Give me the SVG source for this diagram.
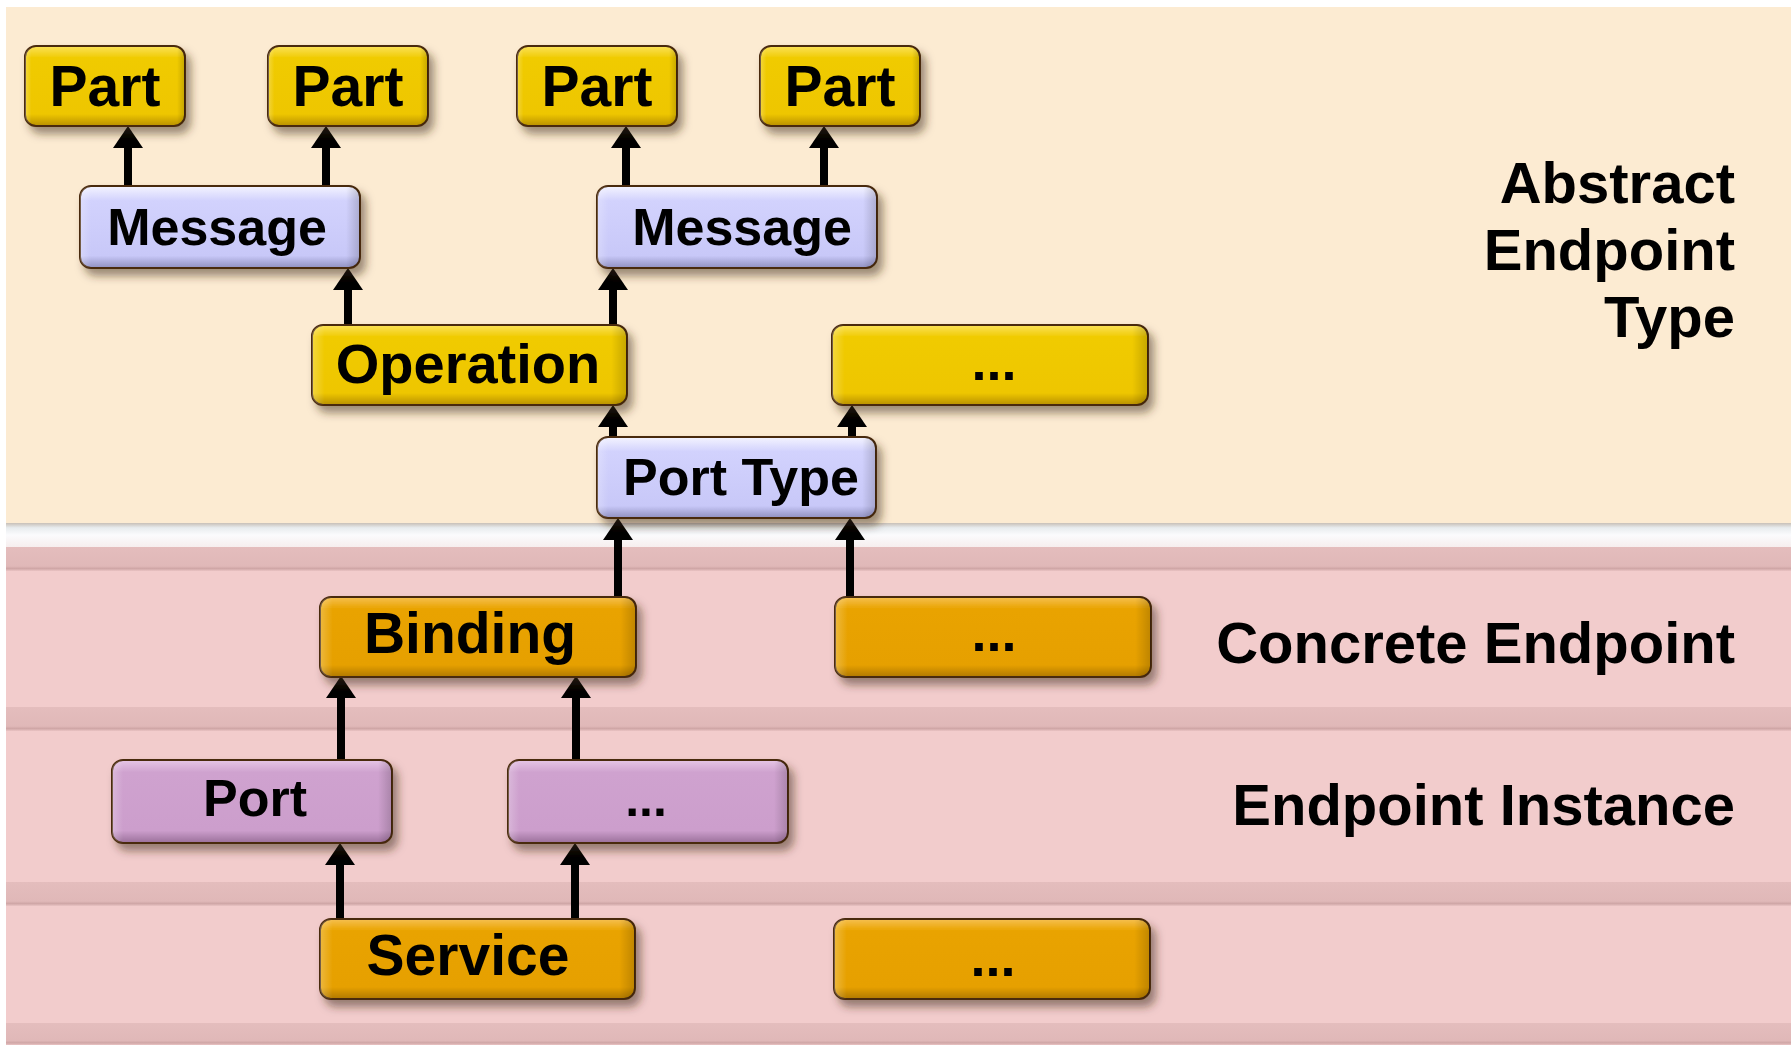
<svg xmlns="http://www.w3.org/2000/svg" width="1791" height="1045" viewBox="0 0 1791 1045">
  <defs>
    <style>
      .lbl { font-family: "Liberation Sans", Arial, sans-serif; font-weight: bold; fill: #000; text-anchor: middle; }
      .side { font-family: "Liberation Sans", Arial, sans-serif; font-weight: bold; fill: #000; font-size: 58px; text-anchor: end; }
      .box { stroke: #4a2a10; stroke-width: 2; filter: url(#shadow); }
      .gloss { fill: url(#edgeShade); pointer-events: none; }
      .conn { stroke: #000; stroke-width: 8; fill: none; marker-end: url(#head); }
    </style>
    <filter id="shadow" x="-10%" y="-20%" width="125%" height="150%">
      <feDropShadow dx="5" dy="7" stdDeviation="4.5" flood-color="#3a2a10" flood-opacity="0.5"/>
    </filter>
    <linearGradient id="gYellow" x1="0" y1="0" x2="0" y2="1">
      <stop offset="0" stop-color="#fbe25a"/>
      <stop offset="0.15" stop-color="#f0cb00"/>
      <stop offset="0.85" stop-color="#eec600"/>
      <stop offset="1" stop-color="#b89000"/>
    </linearGradient>
    <linearGradient id="gLavender" x1="0" y1="0" x2="0" y2="1">
      <stop offset="0" stop-color="#f4f4ff"/>
      <stop offset="0.18" stop-color="#d2d2fd"/>
      <stop offset="0.85" stop-color="#c8c8f8"/>
      <stop offset="1" stop-color="#9090c0"/>
    </linearGradient>
    <linearGradient id="gOrange" x1="0" y1="0" x2="0" y2="1">
      <stop offset="0" stop-color="#f6c050"/>
      <stop offset="0.15" stop-color="#e9a300"/>
      <stop offset="0.85" stop-color="#e6a000"/>
      <stop offset="1" stop-color="#b07800"/>
    </linearGradient>
    <linearGradient id="gPurple" x1="0" y1="0" x2="0" y2="1">
      <stop offset="0" stop-color="#e6c6e6"/>
      <stop offset="0.15" stop-color="#cfa2cf"/>
      <stop offset="0.85" stop-color="#cc9ecc"/>
      <stop offset="1" stop-color="#9a709a"/>
    </linearGradient>
    <linearGradient id="edgeShade" x1="0" y1="0" x2="1" y2="0">
      <stop offset="0" stop-color="#fff" stop-opacity="0.25"/>
      <stop offset="0.04" stop-color="#fff" stop-opacity="0"/>
      <stop offset="0.95" stop-color="#000" stop-opacity="0"/>
      <stop offset="1" stop-color="#000" stop-opacity="0.18"/>
    </linearGradient>
    <linearGradient id="stripe" x1="0" y1="0" x2="0" y2="1">
      <stop offset="0" stop-color="#e4bdbd"/>
      <stop offset="0.8" stop-color="#e0b8b8"/>
      <stop offset="0.9" stop-color="#cfa6a6"/>
      <stop offset="1" stop-color="#eac4c4"/>
    </linearGradient>
    <linearGradient id="gap" x1="0" y1="0" x2="0" y2="1">
      <stop offset="0" stop-color="#c8c0b8"/>
      <stop offset="0.2" stop-color="#e8ecee"/>
      <stop offset="0.5" stop-color="#fbfbfd"/>
      <stop offset="1" stop-color="#f6eeee"/>
    </linearGradient>
    <marker id="head" viewBox="0 0 22 30" markerUnits="userSpaceOnUse" markerWidth="22" markerHeight="30" refX="0" refY="15" orient="auto">
      <path d="M0,0 L22,15 L0,30 z" fill="#000"/>
    </marker>
  </defs>

  <!-- layer backgrounds -->
  <g id="layers">
    <rect x="0" y="0" width="1791" height="1045" fill="#ffffff"/>
    <rect x="6" y="7" width="1785" height="516" fill="#fcebd2"/>
    <rect x="6" y="523" width="1785" height="24" fill="url(#gap)"/>
    <rect x="6" y="547" width="1785" height="498" fill="#f2cccc"/>
    <rect x="6" y="547" width="1785" height="24" fill="url(#stripe)"/>
    <rect x="6" y="707" width="1785" height="24" fill="url(#stripe)"/>
    <rect x="6" y="882" width="1785" height="24" fill="url(#stripe)"/>
    <rect x="6" y="1023" width="1785" height="22" fill="url(#stripe)"/>
  </g>

  <!-- layer captions -->
  <g id="captions">
    <text class="side" x="1735" y="203">Abstract</text>
    <text class="side" x="1735" y="270">Endpoint</text>
    <text class="side" x="1735" y="337">Type</text>
    <text class="side" x="1735" y="663">Concrete Endpoint</text>
    <text class="side" x="1735" y="825">Endpoint Instance</text>
  </g>

  <!-- connectors (drawn from source up to target) -->
  <g id="connectors">
    <line class="conn" x1="128" y1="186" x2="128" y2="148"/>
    <line class="conn" x1="326" y1="186" x2="326" y2="148"/>
    <line class="conn" x1="626" y1="186" x2="626" y2="148"/>
    <line class="conn" x1="824" y1="186" x2="824" y2="148"/>
    <line class="conn" x1="348" y1="325" x2="348" y2="290"/>
    <line class="conn" x1="613" y1="325" x2="613" y2="290"/>
    <line class="conn" x1="613" y1="437" x2="613" y2="427"/>
    <line class="conn" x1="852" y1="437" x2="852" y2="427"/>
    <line class="conn" x1="618" y1="597" x2="618" y2="540"/>
    <line class="conn" x1="850" y1="597" x2="850" y2="540"/>
    <line class="conn" x1="341" y1="760" x2="341" y2="698"/>
    <line class="conn" x1="576" y1="760" x2="576" y2="698"/>
    <line class="conn" x1="340" y1="919" x2="340" y2="865"/>
    <line class="conn" x1="575" y1="919" x2="575" y2="865"/>
  </g>

  <!-- abstract endpoint type -->
  <g id="part1">
    <rect class="box" x="25" y="46" width="160" height="80" rx="11" fill="url(#gYellow)"/>
    <rect class="gloss" x="25" y="46" width="160" height="80" rx="11"/>
    <text class="lbl" x="105" y="106" font-size="57">Part</text>
  </g>
  <g id="part2">
    <rect class="box" x="268" y="46" width="160" height="80" rx="11" fill="url(#gYellow)"/>
    <rect class="gloss" x="268" y="46" width="160" height="80" rx="11"/>
    <text class="lbl" x="348" y="106" font-size="57">Part</text>
  </g>
  <g id="part3">
    <rect class="box" x="517" y="46" width="160" height="80" rx="11" fill="url(#gYellow)"/>
    <rect class="gloss" x="517" y="46" width="160" height="80" rx="11"/>
    <text class="lbl" x="597" y="106" font-size="57">Part</text>
  </g>
  <g id="part4">
    <rect class="box" x="760" y="46" width="160" height="80" rx="11" fill="url(#gYellow)"/>
    <rect class="gloss" x="760" y="46" width="160" height="80" rx="11"/>
    <text class="lbl" x="840" y="106" font-size="57">Part</text>
  </g>
  <g id="message1">
    <rect class="box" x="80" y="186" width="280" height="82" rx="11" fill="url(#gLavender)"/>
    <rect class="gloss" x="80" y="186" width="280" height="82" rx="11"/>
    <text class="lbl" x="217" y="245" font-size="52">Message</text>
  </g>
  <g id="message2">
    <rect class="box" x="597" y="186" width="280" height="82" rx="11" fill="url(#gLavender)"/>
    <rect class="gloss" x="597" y="186" width="280" height="82" rx="11"/>
    <text class="lbl" x="742" y="245" font-size="52">Message</text>
  </g>
  <g id="operation">
    <rect class="box" x="312" y="325" width="315" height="80" rx="11" fill="url(#gYellow)"/>
    <rect class="gloss" x="312" y="325" width="315" height="80" rx="11"/>
    <text class="lbl" x="468" y="383" font-size="56">Operation</text>
  </g>
  <g id="operation-more">
    <rect class="box" x="832" y="325" width="316" height="80" rx="11" fill="url(#gYellow)"/>
    <rect class="gloss" x="832" y="325" width="316" height="80" rx="11"/>
    <text class="lbl" x="994" y="380" font-size="54">...</text>
  </g>
  <g id="porttype">
    <rect class="box" x="597" y="437" width="279" height="81" rx="11" fill="url(#gLavender)"/>
    <rect class="gloss" x="597" y="437" width="279" height="81" rx="11"/>
    <text class="lbl" x="741" y="495" font-size="52">Port Type</text>
  </g>

  <!-- concrete endpoint -->
  <g id="binding">
    <rect class="box" x="320" y="597" width="316" height="80" rx="11" fill="url(#gOrange)"/>
    <rect class="gloss" x="320" y="597" width="316" height="80" rx="11"/>
    <text class="lbl" x="470" y="653" font-size="57">Binding</text>
  </g>
  <g id="binding-more">
    <rect class="box" x="835" y="597" width="316" height="80" rx="11" fill="url(#gOrange)"/>
    <rect class="gloss" x="835" y="597" width="316" height="80" rx="11"/>
    <text class="lbl" x="994" y="651" font-size="54">...</text>
  </g>

  <!-- endpoint instance -->
  <g id="port">
    <rect class="box" x="112" y="760" width="280" height="83" rx="11" fill="url(#gPurple)"/>
    <rect class="gloss" x="112" y="760" width="280" height="83" rx="11"/>
    <text class="lbl" x="255" y="816" font-size="52">Port</text>
  </g>
  <g id="port-more">
    <rect class="box" x="508" y="760" width="280" height="83" rx="11" fill="url(#gPurple)"/>
    <rect class="gloss" x="508" y="760" width="280" height="83" rx="11"/>
    <text class="lbl" x="646" y="816" font-size="50">...</text>
  </g>

  <!-- service -->
  <g id="service">
    <rect class="box" x="320" y="919" width="315" height="80" rx="11" fill="url(#gOrange)"/>
    <rect class="gloss" x="320" y="919" width="315" height="80" rx="11"/>
    <text class="lbl" x="468" y="975" font-size="57">Service</text>
  </g>
  <g id="service-more">
    <rect class="box" x="834" y="919" width="316" height="80" rx="11" fill="url(#gOrange)"/>
    <rect class="gloss" x="834" y="919" width="316" height="80" rx="11"/>
    <text class="lbl" x="993" y="976" font-size="54">...</text>
  </g>
</svg>
